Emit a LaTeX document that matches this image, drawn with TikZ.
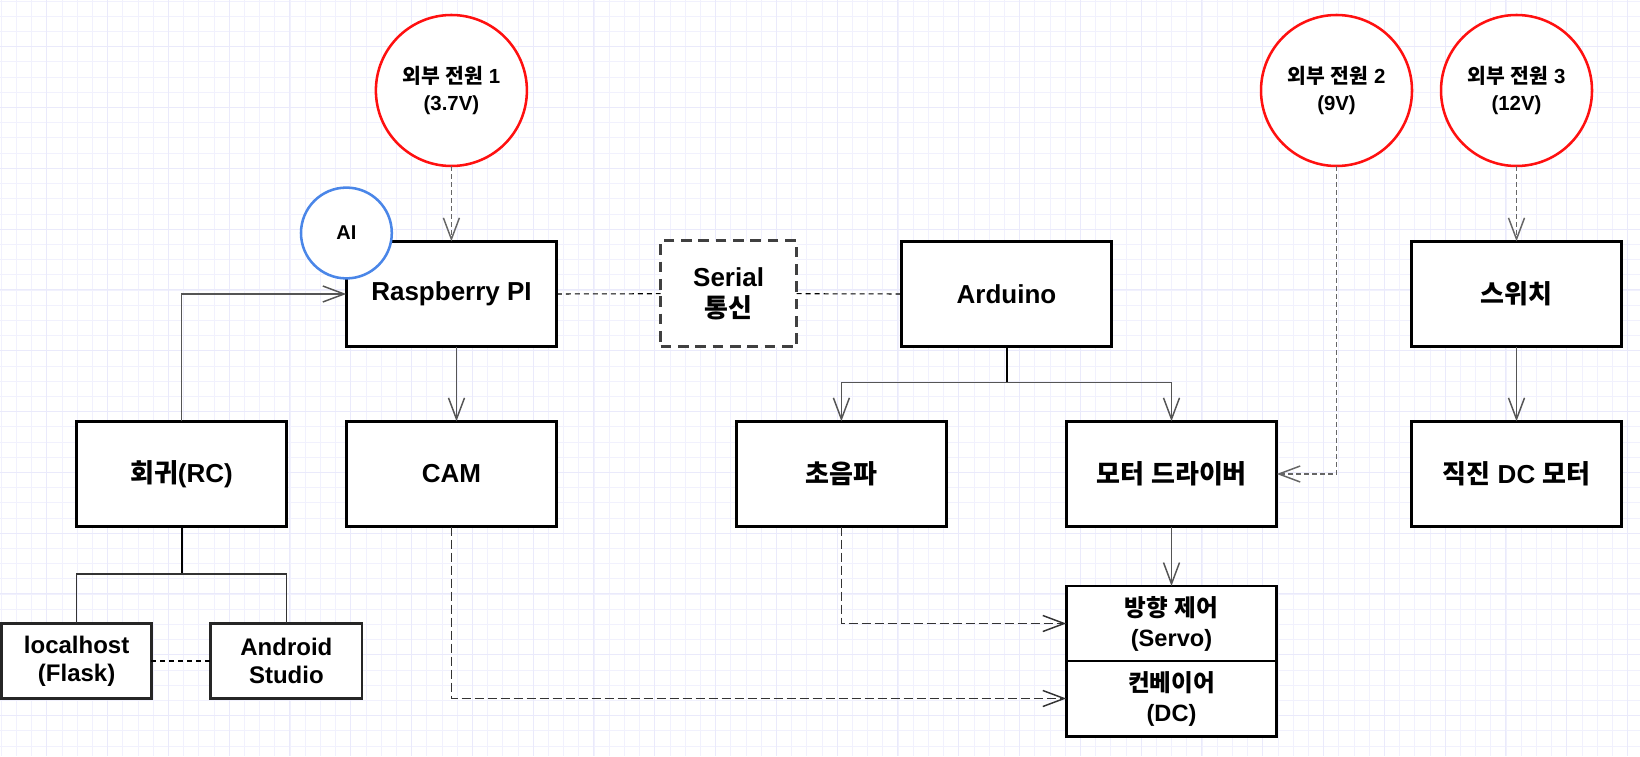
\documentclass[tikz,border=0pt]{standalone}
\usepackage{fontspec}
\setmainfont{Liberation Sans}
\newfontfamily\hgfont{Noto Sans CJK KR}
\newcommand\hg[1]{{\hgfont #1}}
\usetikzlibrary{arrows.meta}
\definecolor{gridminor}{HTML}{F1F1FD}
\definecolor{gridmajor}{HTML}{EAEAFB}
\definecolor{pred}{HTML}{FF1010}
\definecolor{aiblue}{HTML}{4A86E8}
\definecolor{conn}{HTML}{555555}
\definecolor{dconn}{HTML}{333333}
\begin{document}
\begin{tikzpicture}[x=0.75pt,y=-0.75pt,
  box/.style={draw=black, line width=2.2pt, fill=white, inner sep=0pt, outer sep=0pt,
    minimum width=157.9pt, minimum height=79.1pt, align=center,
    font=\bfseries\fontsize{19.5pt}{23pt}\selectfont},
  smallbox/.style={box, minimum height=56.3pt, font=\bfseries\fontsize{17.7pt}{22.5pt}\selectfont},
  appbox/.style={box, draw=black!85, minimum height=56.5pt, font=\bfseries\fontsize{18pt}{21.2pt}\selectfont},
  serialbox/.style={box, draw=black!75, dash pattern=on 8pt off 5pt, minimum width=101.9pt, minimum height=79.5pt,
    font=\bfseries\fontsize{19.5pt}{23.25pt}\selectfont},
  power/.style={circle, draw=pred, line width=1.9pt, fill=white, inner sep=0pt, outer sep=0pt,
    minimum size=113.25pt, align=center, font=\bfseries\fontsize{15.3pt}{20.25pt}\selectfont},
  aicircle/.style={circle, draw=aiblue, line width=1.9pt, fill=white, inner sep=0pt, outer sep=0pt,
    minimum size=68.1pt, font=\bfseries\fontsize{15pt}{18pt}\selectfont},
  tip/.style={-{Straight Barb[length=16pt,width=12pt,line width=1.1pt]}},
  sarrow/.style={draw=conn, line width=1.1pt, tip},
  parrow/.style={draw=black!60, line width=1.1pt, dash pattern=on 3.75pt off 2.25pt, tip},
  darrow/.style={draw=dconn, line width=1.1pt, dash pattern=on 6.75pt off 3pt, tip},
  thindash/.style={draw=black, line width=0.8pt, dash pattern=on 3.75pt off 3pt},
  tree/.style={draw=dconn, line width=1.1pt},
  treestem/.style={draw=black, line width=1.5pt}
]
% background and grid
\fill[white] (0,0) rectangle (1640,756);
\useasboundingbox (0,0) rectangle (1640,756);
\foreach \i in {0,...,107} {
  \draw[gridminor, line width=0.6pt] ({1.1+15.2*\i},0) -- ({1.1+15.2*\i},756);
}
\foreach \j in {0,...,49} {
  \draw[gridminor, line width=0.6pt] (0,{1.1+15.2*\j}) -- (1640,{1.1+15.2*\j});
}
\foreach \i in {3,7,...,107} {
  \draw[gridmajor, line width=0.7pt] ({1.1+15.2*\i},0) -- ({1.1+15.2*\i},756);
}
\foreach \j in {3,7,...,49} {
  \draw[gridmajor, line width=0.7pt] (0,{1.1+15.2*\j}) -- (1640,{1.1+15.2*\j});
}

% nodes
\node[power] (p1) at (451.4,90.5) {\hg{외부} \hg{전원} 1\\(3.7V)};
\node[power] (p2) at (1336.5,90.5) {\hg{외부} \hg{전원} 2\\(9V)};
\node[power] (p3) at (1516.5,90.5) {\hg{외부} \hg{전원} 3\\(12V)};

\node[box] (rpi) at (451.5,294) {Raspberry PI};
\node[aicircle] (ai) at (346.4,233) {AI};
\node[serialbox] (ser) at (728.6,293.7) {Serial\\\hg{통신}};
\node[box] (ard) at (1006.5,294) {Arduino};
\node[box] (sw) at (1516.5,294) {\hg{스위치}};

\node[box] (rc) at (181.5,474) {\hg{회귀}(RC)};
\node[box] (cam) at (451.5,474) {CAM};
\node[box] (us) at (841.4,474) {\hg{초음파}};
\node[box] (md) at (1171.5,474) {\hg{모터} \hg{드라이버}};
\node[box] (dcm) at (1516.5,474) {\hg{직진} DC \hg{모터}};

\node[smallbox] (servo) at (1171.5,623.5) {\hg{방향} \hg{제어}\\(Servo)};
\node[smallbox] (conv) at (1171.5,698.5) {\hg{컨베이어}\\(DC)};

\node[appbox, minimum width=112.3pt] (lh) at (76.6,661) {localhost\\(Flask)};
\node[appbox, minimum width=113.4pt] (as) at (286.4,661) {Android\\Studio};

% connectors
\draw[parrow] (p1.south) -- (p1.south |- rpi.north);
\draw[sarrow] (rc.north) |- (rpi.west);
\draw[sarrow] ([xshift=3.75pt]rpi.south) -- ([xshift=3.75pt]cam.north);
\draw[thindash] (rpi.east) -- (ser.west);
\draw[thindash] (ser.east) -- (ard.west);
\draw[treestem] (ard.south) -- ++(0,36) coordinate (ardj);
\draw[sarrow] (ardj) -| (us.north);
\draw[sarrow] (ardj) -| (md.north);
\draw[parrow] (p3.south) -- (p3.south |- sw.north);
\draw[sarrow] (sw.south) -- (dcm.north);
\draw[parrow] (p2.south) |- (md.east);
\draw[sarrow] (md.south) -- (servo.north);
\draw[darrow] (us.south) |- (servo.west);
\draw[darrow] (cam.south) |- (conv.west);
\draw[treestem] (rc.south) -- ++(0,47.3) coordinate (rcj);
\draw[tree] (rcj) -| (lh.north);
\draw[tree] (rcj) -| (as.north);
\draw[thindash] (lh.east) -- (as.west);
\end{tikzpicture}
\end{document}
